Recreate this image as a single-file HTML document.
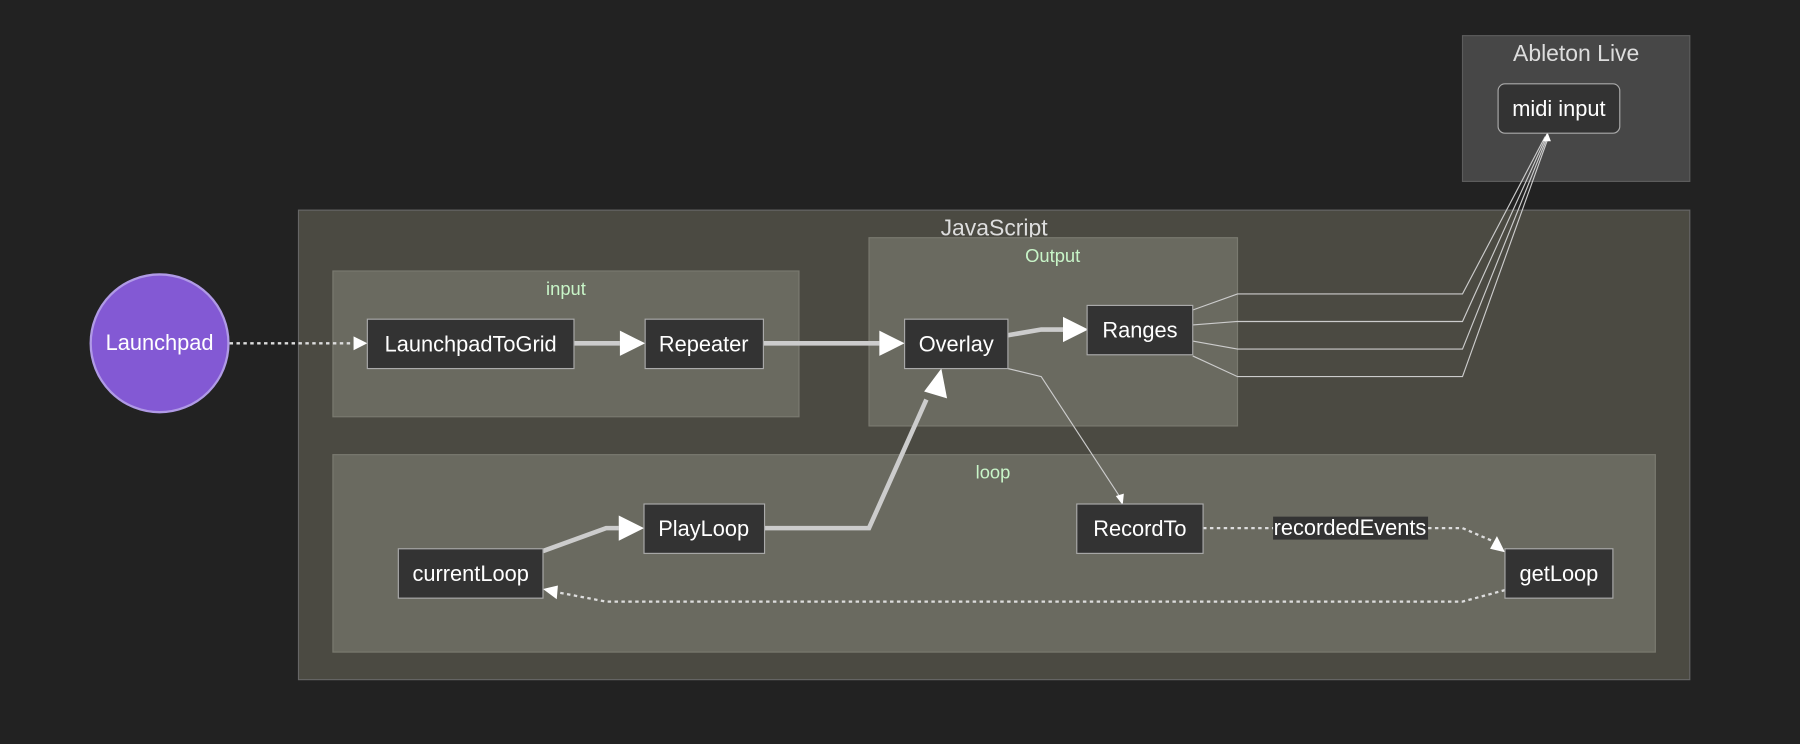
<!DOCTYPE html>
<html><head><meta charset="utf-8"><style>html,body{margin:0;padding:0;background:#222;}svg{display:block}</style></head>
<body>
<svg width="1800" height="744" viewBox="0 0 1568 648" xmlns="http://www.w3.org/2000/svg" font-family="Liberation Sans, sans-serif">
<rect width="1568" height="648" fill="#222"/>
<rect x="1274" y="31" width="198" height="127" fill="#474747" stroke="#5c5c5c"/>
<text x="1373" y="53" font-size="20" fill="#ddd" text-anchor="middle">Ableton Live</text>
<rect x="260" y="183" width="1212" height="409" fill="#4b4a42" stroke="#666"/>
<text x="866" y="205" font-size="20" fill="#ddd" text-anchor="middle">JavaScript</text>
<rect x="757" y="207" width="321" height="164" fill="#6a6a60" stroke="#7a7a70"/>
<text x="917" y="228" font-size="16" fill="#c8f5c8" text-anchor="middle">Output</text>
<rect x="290" y="236" width="406" height="127" fill="#6a6a60" stroke="#7a7a70"/>
<text x="493" y="257" font-size="16" fill="#c8f5c8" text-anchor="middle">input</text>
<rect x="290" y="396" width="1152" height="172" fill="#6a6a60" stroke="#7a7a70"/>
<text x="865" y="417" font-size="16" fill="#c8f5c8" text-anchor="middle">loop</text>

<g fill="none" stroke="#ccc" stroke-width="1">
<polyline points="1039,270 1078,256 1274,256 1346,119"/>
<polyline points="1039,283 1078,280 1274,280 1347,119"/>
<polyline points="1039,297 1078,304 1274,304 1348,119"/>
<polyline points="1039,310 1078,328 1274,328 1349,119"/>
<polyline points="878,321 907,328 975,432"/>
</g>
<polygon points="1348,115 1344,123 1351,123" fill="#fff"/>
<polygon points="978,440 972,432 979,430" fill="#fff"/>

<g fill="none" stroke="#ccc" stroke-width="4">
<line x1="500" y1="299" x2="540" y2="299"/>
<line x1="665" y1="299" x2="766" y2="299"/>
<polyline points="878,292 907,287 926,287"/>
<polyline points="666,460 757,460 807,348"/>
<polyline points="473,480 528,460 539,460"/>
</g>
<g fill="#fff">
<polygon points="540,288 562,299 540,310"/>
<polygon points="766,288 788,299 766,310"/>
<polygon points="926,276 948,287 926,298"/>
<polygon points="539,449 561,460 539,471"/>
<polygon points="820,321 825,347 805,341"/>
</g>
<g fill="none" stroke="#ddd" stroke-width="2" stroke-dasharray="3,3">
<line x1="200" y1="299" x2="308" y2="299"/>
<polyline points="1048,460 1110,460"/>
<polyline points="1244,460 1274,460 1302,472"/>
<polyline points="1311,514 1274,524 528,524 486,516"/>
</g>
<g fill="#fff">
<polygon points="308,293 320,299 308,305"/>
<polygon points="1311,481 1298,478 1304,467"/>
<polygon points="473,513 486,510 485,522"/>
</g>
<rect x="1109" y="450" width="135" height="20" fill="#333"/>
<text x="1176" y="466" font-size="19" fill="#fff" text-anchor="middle">recordedEvents</text>

<circle cx="139" cy="299" r="60" fill="#8359d4" stroke="#b09ae6" stroke-width="2"/>
<text x="139" y="305" font-size="19" fill="#fff" text-anchor="middle">Launchpad</text>
<rect x="1305" y="73" width="106" height="43" rx="6" fill="#333" stroke="#aaa"/>
<text x="1358" y="101" font-size="19" fill="#fff" text-anchor="middle">midi input</text>
<g fill="#333" stroke="#aaa">
<rect x="320" y="278" width="180" height="43"/>
<rect x="562" y="278" width="103" height="43"/>
<rect x="788" y="278" width="90" height="43"/>
<rect x="947" y="266" width="92" height="43"/>
<rect x="561" y="439" width="105" height="43"/>
<rect x="938" y="439" width="110" height="43"/>
<rect x="347" y="478" width="126" height="43"/>
<rect x="1311" y="478" width="94" height="43"/>
</g>
<g font-size="19" fill="#fff" text-anchor="middle">
<text x="410" y="306">LaunchpadToGrid</text>
<text x="613" y="306">Repeater</text>
<text x="833" y="306">Overlay</text>
<text x="993" y="294">Ranges</text>
<text x="613" y="467">PlayLoop</text>
<text x="993" y="467">RecordTo</text>
<text x="410" y="506">currentLoop</text>
<text x="1358" y="506">getLoop</text>
</g>
</svg>
</body></html>
